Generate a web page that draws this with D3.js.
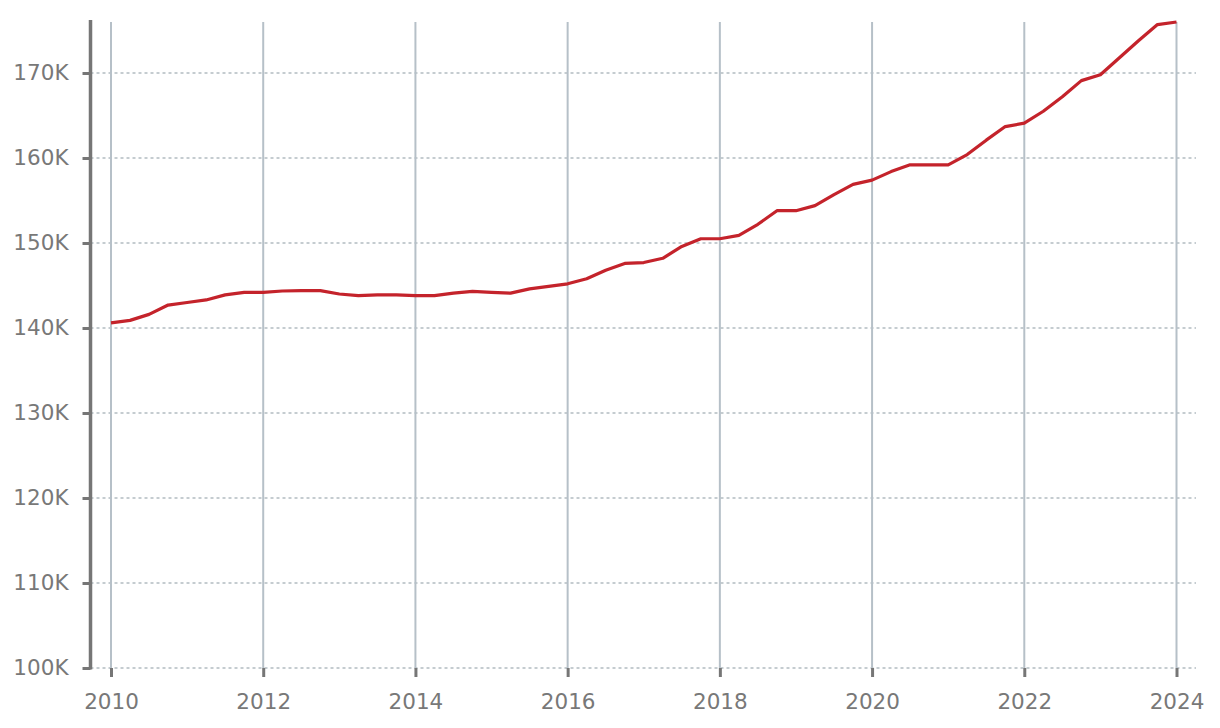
<!DOCTYPE html>
<html>
<head>
<meta charset="utf-8">
<script src="https://cdn.jsdelivr.net/npm/d3@7"></script>
<style>
  html, body { margin: 0; padding: 0; background: #fff; }
  svg { display: block; }
  text { font-family: "DejaVu Sans", sans-serif; fill: #787878; }
</style>
</head>
<body>
<svg id="chart" width="1220" height="728"></svg>
<script>
// Quarterly observations
const periods = [
  2010.00, 2010.25, 2010.50, 2010.75,
  2011.00, 2011.25, 2011.50, 2011.75,
  2012.00, 2012.25, 2012.50, 2012.75,
  2013.00, 2013.25, 2013.50, 2013.75,
  2014.00, 2014.25, 2014.50, 2014.75,
  2015.00, 2015.25, 2015.50, 2015.75,
  2016.00, 2016.25, 2016.50, 2016.75,
  2017.00, 2017.25, 2017.50, 2017.75,
  2018.00, 2018.25, 2018.50, 2018.75,
  2019.00, 2019.25, 2019.50, 2019.75,
  2020.00, 2020.25, 2020.50, 2020.75,
  2021.00, 2021.25, 2021.50, 2021.75,
  2022.00, 2022.25, 2022.50, 2022.75,
  2023.00, 2023.25, 2023.50, 2023.75,
  2024.00
];
const values = [
  140.6, 140.9, 141.6, 142.7,
  143.0, 143.3, 143.9, 144.2,
  144.2, 144.35, 144.4, 144.4,
  144.0, 143.8, 143.9, 143.9,
  143.8, 143.8, 144.1, 144.3,
  144.2, 144.1, 144.6, 144.9,
  145.2, 145.8, 146.8, 147.6,
  147.7, 148.2, 149.6, 150.5,
  150.5, 150.9, 152.2, 153.8,
  153.8, 154.4, 155.7, 156.9,
  157.4, 158.4, 159.2, 159.2,
  159.2, 160.4, 162.1, 163.7,
  164.1, 165.5, 167.2, 169.1,
  169.8, 171.8, 173.8, 175.7,
  176.0
];
const xTicks = [2010, 2012, 2014, 2016, 2018, 2020, 2022, 2024];
const yTicks = [100, 110, 120, 130, 140, 150, 160, 170];
const yTickLabels = ["100K", "110K", "120K", "130K", "140K", "150K", "160K", "170K"];

const svg = d3.select("#chart");
const axisX = 90.5, gridRight = 1196, plotBottom = 668, axisTop = 20, vgridTop = 22;
const fontSize = 21.5;

const x = d3.scaleLinear().domain([2010, 2024]).range([111, 1176.5]);
const y = d3.scaleLinear().domain([100, 170]).range([668, 73]);

// horizontal dashed gridlines
svg.append("g").selectAll("line").data(yTicks).join("line")
  .attr("x1", axisX).attr("x2", gridRight)
  .attr("y1", d => y(d)).attr("y2", d => y(d))
  .attr("stroke", "#b3bcc1").attr("stroke-width", 1.5)
  .attr("stroke-dasharray", "3,3");

// vertical gridlines
svg.append("g").selectAll("line").data(xTicks).join("line")
  .attr("x1", d => x(d)).attr("x2", d => x(d))
  .attr("y1", vgridTop).attr("y2", plotBottom)
  .attr("stroke", "#b6c0c8").attr("stroke-width", 2);

// x axis ticks + labels
const xAxis = d3.axisBottom(x).tickValues(xTicks).tickFormat(d3.format("d"))
  .tickSize(9).tickPadding(17);
const gx = svg.append("g").attr("transform", `translate(0,${plotBottom})`).call(xAxis);
gx.select(".domain").remove();
gx.selectAll(".tick line").attr("stroke", "#767676").attr("stroke-width", 3);
gx.selectAll(".tick text").attr("font-size", fontSize).attr("fill", "#787878")
  .style("font-family", "'DejaVu Sans', sans-serif");

// y axis ticks + labels
const yAxis = d3.axisLeft(y).tickValues(yTicks).tickFormat((d, i) => yTickLabels[i])
  .tickSize(8).tickPadding(14);
const gy = svg.append("g").attr("transform", `translate(${axisX},0)`).call(yAxis);
gy.select(".domain").remove();
gy.selectAll(".tick line").attr("stroke", "#767676").attr("stroke-width", 3);
gy.selectAll(".tick text").attr("font-size", fontSize).attr("fill", "#787878")
  .style("font-family", "'DejaVu Sans', sans-serif");

// y axis line
svg.append("line")
  .attr("x1", axisX).attr("x2", axisX)
  .attr("y1", axisTop).attr("y2", plotBottom + 1.5)
  .attr("stroke", "#767676").attr("stroke-width", 3.5);

// data line
const line = d3.line().x((d, i) => x(periods[i])).y(d => y(d));
svg.append("path").datum(values)
  .attr("d", line)
  .attr("fill", "none")
  .attr("stroke", "#c4232b")
  .attr("stroke-width", 3.2)
  .attr("stroke-linejoin", "round");
</script>
</body>
</html>
